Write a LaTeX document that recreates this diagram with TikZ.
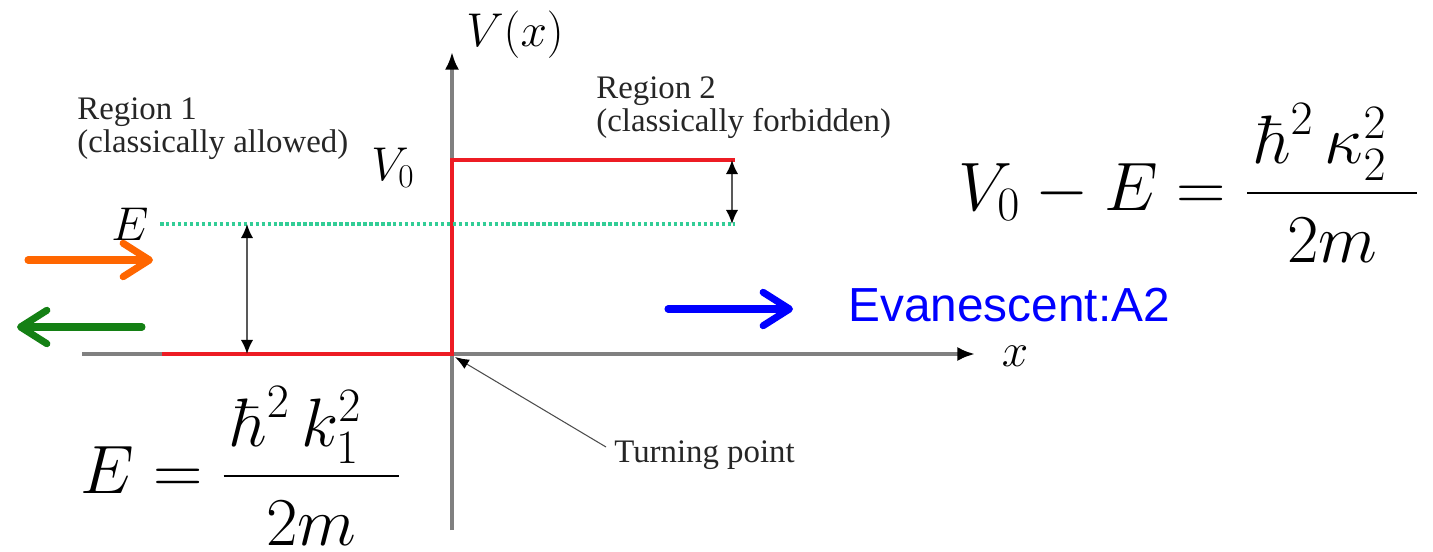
\RequirePackage{fix-cm}
\documentclass[tikz,border=0pt]{standalone}
\usepackage{amsmath}
\usepackage[no-math]{fontspec}
\setmainfont{Liberation Serif}
\newfontfamily\arialfont{Liberation Sans}
\usepackage{xcolor}
\usetikzlibrary{arrows.meta,calc}
\definecolor{stepred}{RGB}{237,28,36}
\definecolor{levelgreen}{RGB}{50,205,150}
\definecolor{inorange}{RGB}{255,102,0}
\definecolor{outgreen}{RGB}{20,128,20}
\definecolor{axisgray}{RGB}{128,128,128}

\begin{document}
\begin{tikzpicture}[x=0.02cm, y=-0.02cm,
    axis/.style={axisgray, line width=2.1pt, -{Latex[color=black, length=10pt, width=8pt]}},
    potline/.style={stepred, line width=2.6pt},
    level/.style={levelgreen, line width=1.8pt, dash pattern=on 2pt off 1.4pt},
    gap/.style={black!65, line width=1pt, {Latex[color=black, length=8pt, width=7pt]}-{Latex[color=black, length=8pt, width=7pt]}},
    wave/.style={line width=4pt, line cap=round, -{Straight Barb[round, length=15pt, width=19pt]}},
    mathlbl/.style={inner sep=0pt, font=\fontsize{27}{30}\selectfont},
    regtext/.style={inner sep=0pt, align=left, text=black!85, font=\fontsize{18.7}{19}\selectfont},
    formula/.style={inner sep=0pt, anchor=base west, font=\fontsize{39}{42}\selectfont}]
    \useasboundingbox (0,0) rectangle (1433,551);

    % Axes
    \coordinate (O) at (452,354);
    \coordinate (xl) at (82,354);
    \coordinate (xr) at (975,354);
    \coordinate (yb) at (452,530);
    \coordinate (yt) at (452,52);
    \draw[axis] (xl) -- (xr);
    \draw[axis] (yb) -- (yt);
    \node[mathlbl] (xlab) at (1015,356) {$x$};
    \node[mathlbl] (Vx) at (515,35) {$V(x)$};

    % Potential step
    \draw[potline] (162,354) -- (O) -- (452,160) -- (735,160);
    \node[mathlbl] (V0) at (393,168) {$V_0$};

    % Energy level
    \draw[level] (160,224) -- (735,224);
    \node[mathlbl] (E) at (130,224) {$E$};
    \draw[gap] (247,224) -- (247,354);
    \draw[gap] (732,160) -- (732,224);

    % Region labels
    \node[regtext, anchor=north west] (r1) at (77,97) {Region 1\\(classically allowed)};
    \node[regtext, anchor=north west] (r2) at (596,76) {Region 2\\(classically forbidden)};
    \node[regtext, anchor=west] (tp) at (614,455) {Turning point};
    \draw[black!70, line width=0.6pt, -{Latex[color=black, length=8pt, width=6pt]}] ($(tp.west)+(-8,-8)$) -- ($(O)+(3,3)$);

    % Waves
    \draw[wave, inorange] (28,260) -- (153,260);
    \draw[wave, outgreen] (142,327) -- (17,327);
    \draw[wave, blue] (668,309) -- (793,309);
    \node[anchor=west, inner sep=0pt, blue, font=\arialfont\fontsize{27.2}{30}\selectfont] (ev) at (848,305) {Evanescent:A2};

    % Energies
    \node[formula] (f1) at (80,493) {$E=\dfrac{\mkern2mu\hbar^{2}\,k_1^{2}\mkern10mu}{\rule{0pt}{0.93em}2m}$};
    \node[formula] (f2) at (958,210) {$V_0-E=\dfrac{\mkern2mu\hbar^{2}\,\kappa_2^{2}\mkern8mu}{\rule{0pt}{0.93em}2m}$};
\end{tikzpicture}
\end{document}
